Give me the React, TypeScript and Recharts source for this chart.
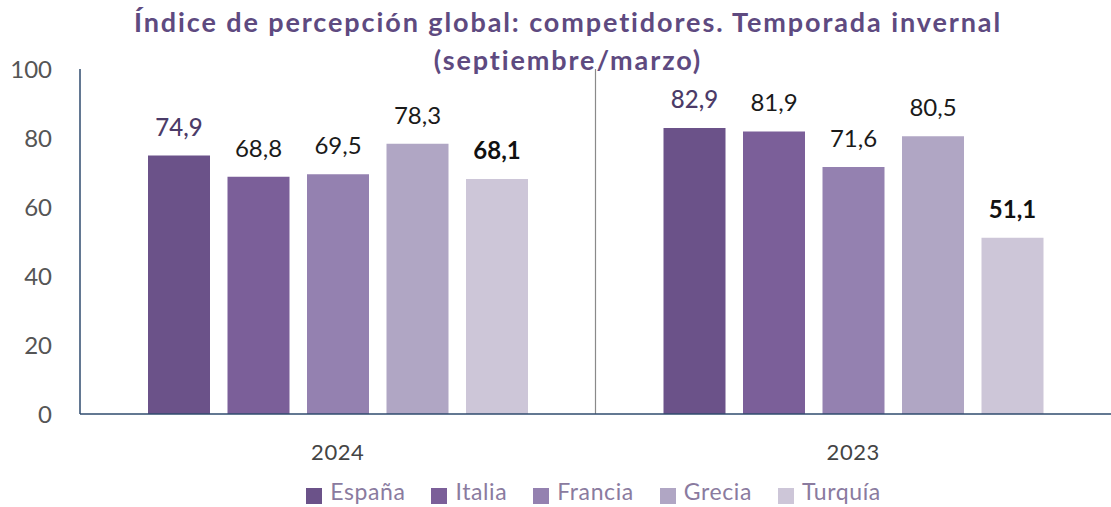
import React from 'react';
import { BarChart, Bar, XAxis, YAxis, CartesianGrid, Legend, LabelList } from 'recharts';

const categories = ['2024', '2023'];
const espana = [74.9, 82.9];
const italia = [68.8, 81.9];
const francia = [69.5, 71.6];
const grecia = [78.3, 80.5];
const turquia = [68.1, 51.1];
const seriesNames = ['España', 'Italia', 'Francia', 'Grecia', 'Turquía'];
const yTicks = [0, 20, 40, 60, 80, 100];
const titleLines = ['Índice de percepción global: competidores. Temporada invernal', '(septiembre/marzo)'];

const seriesValues = [espana, italia, francia, grecia, turquia];
const colors = ['#6b5289', '#7b5f99', '#9481b0', '#b0a6c4', '#cdc6d8'];
const labelStyles = [
  { fill: '#4b3b68', fontWeight: 500 },
  { fill: '#1a1a1a', fontWeight: 400 },
  { fill: '#1a1a1a', fontWeight: 400 },
  { fill: '#1a1a1a', fontWeight: 400 },
  { fill: '#111111', fontWeight: 700 },
];

const data = categories.map((c, i) => {
  const row: Record<string, any> = { cat: c };
  seriesNames.forEach((s, j) => {
    row[s] = seriesValues[j][i];
  });
  return row;
});

const fmt = (v: any) => Number(v).toFixed(1).replace('.', ',');

const FONT = 'Lato, "Open Sans", sans-serif';

export default function App() {
  return (
    <div style={{ position: 'absolute', left: 0, top: 0, width: 1111, height: 507, background: '#fff', fontFamily: FONT }}>
      <style>{`.recharts-legend-item{margin-right:26px !important;} .recharts-legend-item svg{margin-right:8px !important;}`}</style>
      <BarChart
        width={1111}
        height={507}
        data={data}
        margin={{ top: 69, right: 0, left: 0, bottom: 0 }}
        barSize={62}
        barGap={17.5}
      >
        <CartesianGrid
          horizontal={false}
          vertical={true}
          stroke="#8a8a8a"
          strokeWidth={1.2}
          verticalCoordinatesGenerator={({ offset }: any) => [offset.left + offset.width / 2]}
        />
        <XAxis
          dataKey="cat"
          height={53}
          tickSize={0}
          tickMargin={30}
          axisLine={{ stroke: '#2f4b6e', strokeWidth: 1.5 }}
          tick={{ fill: '#444', fontSize: 22, fontFamily: FONT, letterSpacing: 0.6 }}
        />
        <YAxis
          width={80}
          domain={[0, 100]}
          ticks={yTicks}
          tickSize={0}
          tickMargin={28}
          axisLine={{ stroke: '#2f4b6e', strokeWidth: 1.5 }}
          tick={{ fill: '#555', fontSize: 24, fontFamily: FONT }}
        />
        <Legend
          verticalAlign="bottom"
          align="center"
          height={40}
          iconType="square"
          iconSize={16}
          itemSorter={(item: any) => seriesNames.indexOf(item.value)}
          wrapperStyle={{ height: 40, bottom: -10, left: 51 }}
          formatter={(value: any) => (
            <span style={{ color: '#8a7b9f', fontSize: 23, letterSpacing: 0.6, fontFamily: FONT }}>{value}</span>
          )}
        />
        {seriesNames.map((s, j) => (
          <Bar key={s} dataKey={s} name={s} fill={colors[j]} isAnimationActive={false}>
            <LabelList
              dataKey={s}
              position="top"
              offset={20}
              formatter={fmt}
              style={{ fontSize: 24, fontFamily: FONT, ...labelStyles[j] }}
            />
          </Bar>
        ))}
      </BarChart>
      <div
        style={{
          position: 'absolute',
          left: 0,
          top: 3,
          width: 1136,
          textAlign: 'center',
          color: '#5e4a80',
          fontWeight: 700,
          fontSize: 27,
          letterSpacing: 1.9,
          lineHeight: '38px',
          fontFamily: FONT,
          pointerEvents: 'none',
        }}
      >
        {titleLines.map((t) => (
          <div key={t}>{t}</div>
        ))}
      </div>
    </div>
  );
}
